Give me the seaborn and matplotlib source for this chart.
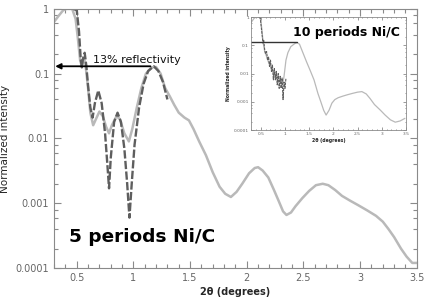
import numpy as np
import pandas as pd
import matplotlib
matplotlib.use("Agg")
import matplotlib.pyplot as plt
import matplotlib.ticker as mticker
import seaborn as sns

# ---- 5 periods (main) ----
sim5_x = [0.30, 0.34, 0.38, 0.41, 0.46, 0.49, 0.51, 0.53, 0.545, 0.56, 0.575, 0.60, 0.62, 0.645,
          0.67, 0.70, 0.73, 0.76, 0.785, 0.81, 0.85, 0.88, 0.92, 0.96, 0.99, 1.03, 1.07, 1.11,
          1.16, 1.20, 1.24, 1.28, 1.32, 1.36, 1.40, 1.45, 1.49, 1.53, 1.58, 1.64, 1.70, 1.76,
          1.81, 1.86, 1.91, 1.96, 2.02, 2.07, 2.10, 2.14, 2.19, 2.24, 2.28, 2.32, 2.35, 2.39,
          2.43, 2.49, 2.55, 2.61, 2.67, 2.72, 2.78, 2.84, 2.91, 2.98, 3.06, 3.14, 3.20, 3.25,
          3.30, 3.36, 3.41, 3.46, 3.50]
sim5_y = [0.63, 0.78, 0.95, 1.0, 1.0, 0.70, 0.35, 0.16, 0.13, 0.17, 0.15, 0.06, 0.025, 0.016,
          0.02, 0.026, 0.022, 0.015, 0.012, 0.016, 0.022, 0.02, 0.012, 0.009, 0.014, 0.03, 0.06, 0.10,
          0.125, 0.127, 0.10, 0.06, 0.045, 0.033, 0.025, 0.021, 0.019, 0.014, 0.009, 0.0055, 0.003, 0.0018,
          0.0014, 0.00125, 0.0015, 0.002, 0.0029, 0.0035, 0.0036, 0.0032, 0.0025, 0.0016, 0.0011, 0.00075, 0.00066, 0.00072,
          0.0009, 0.0012, 0.00155, 0.0019, 0.002, 0.0019, 0.0016, 0.0013, 0.0011, 0.00094, 0.00078, 0.00064, 0.00052, 0.0004,
          0.0003, 0.0002, 0.00015, 0.00012, 0.00012]

meas5_x = [0.47, 0.50, 0.52, 0.535, 0.545, 0.555, 0.57, 0.585, 0.60, 0.62, 0.64, 0.66, 0.69, 0.72,
           0.75, 0.77, 0.785, 0.80, 0.83, 0.86, 0.89, 0.92, 0.945, 0.965, 0.985, 1.01, 1.05, 1.09,
           1.13, 1.18, 1.22, 1.26, 1.30]
meas5_y = [1.0, 0.95, 0.45, 0.17, 0.125, 0.17, 0.21, 0.13, 0.065, 0.03, 0.021, 0.035, 0.055, 0.035,
           0.012, 0.004, 0.0017, 0.005, 0.018, 0.025, 0.018, 0.007, 0.002, 0.0006, 0.002, 0.008, 0.03, 0.07,
           0.11, 0.13, 0.11, 0.075, 0.04]

# ---- 10 periods (inset) ----
sim10_x = [0.30, 0.36, 0.40, 0.49, 0.52, 0.55, 0.58, 0.62, 0.66, 0.70, 0.75, 0.80, 0.85, 0.90, 0.95,
           0.98, 1.02, 1.06, 1.12, 1.20, 1.25, 1.30, 1.37, 1.45, 1.52, 1.60, 1.68, 1.75, 1.80, 1.85,
           1.91, 1.97, 2.03, 2.10, 2.20, 2.30, 2.40, 2.50, 2.59, 2.68, 2.76, 2.85, 2.97, 3.07, 3.18,
           3.28, 3.38, 3.48]
sim10_y = [0.65, 0.9, 1.0, 1.0, 0.4, 0.12, 0.06, 0.04, 0.025, 0.018, 0.012, 0.009, 0.006, 0.005, 0.004,
           0.008, 0.03, 0.055, 0.09, 0.115, 0.125, 0.11, 0.055, 0.025, 0.013, 0.006, 0.002, 0.0009, 0.0005, 0.00034,
           0.0005, 0.0009, 0.0012, 0.0014, 0.0016, 0.0018, 0.002, 0.0022, 0.0023, 0.0019, 0.0013, 0.0008, 0.00051, 0.00034, 0.00023,
           0.00019, 0.00021, 0.00026]

meas10_x = [0.46, 0.49, 0.52, 0.545, 0.56, 0.58, 0.60, 0.62, 0.64, 0.66, 0.68, 0.70, 0.72, 0.74,
            0.76, 0.78, 0.80, 0.82, 0.84, 0.86, 0.88, 0.90, 0.92, 0.94, 0.96, 0.98, 1.00, 1.02]
meas10_y = [1.0, 0.9, 0.3, 0.12, 0.15, 0.07, 0.05, 0.06, 0.03, 0.04, 0.018, 0.03, 0.012, 0.02,
            0.006, 0.015, 0.006, 0.012, 0.004, 0.01, 0.003, 0.008, 0.003, 0.007, 0.0012, 0.005, 0.003, 0.007]

reflectivity = 0.13
arrow_x = [1.15, 0.31]
inset_line_x = [0.3, 1.25]

y_ticks = [0.0001, 0.001, 0.01, 0.1, 1]
y_labels = ["0.0001", "0.001", "0.01", "0.1", "1"]
x_ticks = [0.5, 1, 1.5, 2, 2.5, 3, 3.5]
x_labels = ["0.5", "1", "1.5", "2", "2.5", "3", "3.5"]

sns.set_style("ticks")
plt.rcParams['font.family'] = ['DejaVu Sans']

GRAY = "#b9b9b9"
DARK = "#5e5e5e"
SPINE = "#8a8a8a"
TICKLBL = "#666666"


def style_axes(ax, lblsize, majlen, minlen, width):
    ax.set_yscale("log")
    ax.set_xlim(0.3, 3.5)
    ax.set_ylim(1e-4, 1)
    ax.set_yticks(y_ticks)
    ax.set_yticklabels(y_labels)
    ax.set_xticks(x_ticks)
    ax.set_xticklabels(x_labels)
    ax.xaxis.set_minor_locator(mticker.MultipleLocator(0.1))
    ax.yaxis.set_minor_locator(mticker.LogLocator(base=10, subs=[2, 4, 6, 8]))
    ax.yaxis.set_minor_formatter(mticker.NullFormatter())
    ax.tick_params(which="both", direction="in", top=True, right=True, colors=SPINE,
                   labelcolor=TICKLBL, labelsize=lblsize, width=width)
    ax.tick_params(which="major", length=majlen)
    ax.tick_params(which="minor", length=minlen)
    for s in ax.spines.values():
        s.set_color(SPINE)
        s.set_linewidth(width)


fig = plt.figure(figsize=(4.36, 3.06), dpi=100)
ax = fig.add_axes([0.124, 0.124, 0.832, 0.847])

df_s5 = pd.DataFrame({"x": sim5_x, "y": sim5_y})
df_m5 = pd.DataFrame({"x": meas5_x, "y": meas5_y})
sns.lineplot(data=df_s5, x="x", y="y", ax=ax, color=GRAY, lw=1.8, sort=False)
sns.lineplot(data=df_m5, x="x", y="y", ax=ax, color=DARK, lw=1.7, sort=False,
             linestyle=(0, (3.5, 1.0)))
style_axes(ax, 7, 5, 3, 0.8)
ax.set_xlabel("2θ (degrees)", fontsize=7, fontweight="bold", labelpad=3)
ax.set_ylabel("Normalized intensity", fontsize=7.5, labelpad=4)

ax.annotate("", xy=(arrow_x[1], reflectivity), xytext=(arrow_x[0], reflectivity),
            arrowprops=dict(arrowstyle="-|>", color="black", lw=1.3, mutation_scale=8,
                            shrinkA=0, shrinkB=0))
ax.text(0.64, 0.165, "13% reflectivity", fontsize=8, ha="left", va="center", color="#111111")
ax.text(0.43, 0.0003, "5 periods Ni/C", fontsize=13.3, fontweight="bold", ha="left",
        va="center", color="black")

# inset
axi = fig.add_axes([0.576, 0.575, 0.355, 0.369])
axi.set_facecolor("white")
df_s10 = pd.DataFrame({"x": sim10_x, "y": sim10_y})
df_m10 = pd.DataFrame({"x": meas10_x, "y": meas10_y})
sns.lineplot(data=df_s10, x="x", y="y", ax=axi, color=GRAY, lw=0.9, sort=False)
sns.lineplot(data=df_m10, x="x", y="y", ax=axi, color=DARK, lw=0.8, sort=False,
             linestyle=(0, (2.5, 0.8)))
axi.plot(inset_line_x, [reflectivity, reflectivity], color="#333333", lw=1.0)
style_axes(axi, 3.2, 2, 1, 0.6)
axi.set_xlabel("2θ (degrees)", fontsize=3.3, fontweight="bold", labelpad=1)
axi.set_ylabel("Normalized intensity", fontsize=3.3, fontweight="bold", labelpad=2)
axi.tick_params(pad=1.5)
axi.text(0.96, 0.86, "10 periods Ni/C", transform=axi.transAxes, fontsize=9,
         fontweight="bold", ha="right", va="center", color="black")

fig.savefig("out.png", dpi=100)
